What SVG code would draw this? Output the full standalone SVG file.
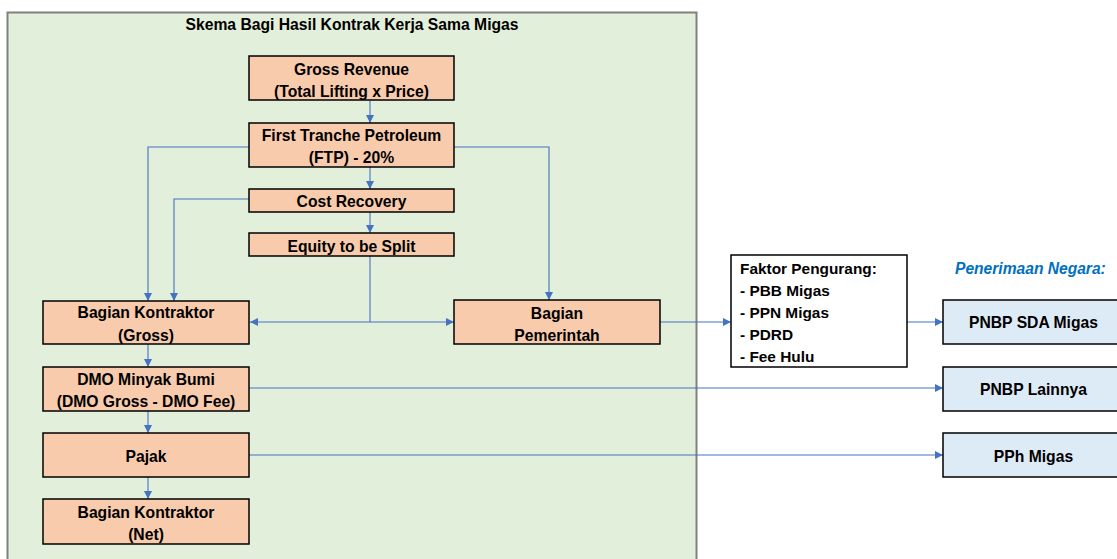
<svg xmlns="http://www.w3.org/2000/svg" width="1117" height="559" viewBox="0 0 1117 559">
<style>
text{font-family:"Liberation Sans",Arial,sans-serif;font-weight:bold;font-size:15.7px;fill:#000}
.c{text-anchor:middle}
.box{fill:#F8CBAD;stroke:#000;stroke-width:1.5}
.blue{fill:#DDEBF7;stroke:#000;stroke-width:1.5}
.wh{fill:#fff;stroke:#000;stroke-width:1.5}
.ln{fill:none;stroke:#4472C4;stroke-width:1.1}
.arr{marker-end:url(#ah)}
</style>
<defs>
<marker id="ah" viewBox="0 0 10 10" refX="10" refY="5" markerWidth="8" markerHeight="8" orient="auto" markerUnits="userSpaceOnUse">
<path d="M0,0 L10,5 L0,10 z" fill="#4472C4"/>
</marker>
</defs>
<rect width="1117" height="559" fill="#fff"/>
<g id="container">
<rect x="7.5" y="12.5" width="689" height="560" fill="#E2EFDA" stroke="#808080" stroke-width="2"/>
<text class="c" x="352" y="30">Skema Bagi Hasil Kontrak Kerja Sama Migas</text>
</g>
<g id="connectors">
<path class="ln arr" d="M370,100.5 V123"/>
<path class="ln arr" d="M370,167 V189"/>
<path class="ln arr" d="M370,212 V233"/>
<path class="ln arr" d="M249,147 H148 V301"/>
<path class="ln arr" d="M454,147 H549 V300"/>
<path class="ln arr" d="M249,199 H174 V301"/>
<path class="ln" d="M370,256 V322"/>
<path class="ln arr" d="M370,322 H250"/>
<path class="ln arr" d="M370,322 H454"/>
<path class="ln arr" d="M148,344 V367"/>
<path class="ln arr" d="M148,411 V433"/>
<path class="ln arr" d="M148,477 V499"/>
<path class="ln arr" d="M660,322 H731"/>
<path class="ln arr" d="M907,322 H943"/>
<path class="ln arr" d="M249,388 H943"/>
<path class="ln arr" d="M249,455 H943"/>
</g>
<g id="gross-revenue">
<rect class="box" x="249" y="56" width="205" height="44"/>
<text class="c" x="351.5" y="74.5">Gross Revenue</text>
<text class="c" x="351.5" y="96.5">(Total Lifting x Price)</text>
</g>
<g id="ftp">
<rect class="box" x="249" y="123" width="205" height="44"/>
<text class="c" x="351.5" y="141">First Tranche Petroleum</text>
<text class="c" x="351.5" y="163">(FTP) - 20%</text>
</g>
<g id="cost-recovery">
<rect class="box" x="249" y="189" width="205" height="23"/>
<text class="c" x="351.5" y="206.5">Cost Recovery</text>
</g>
<g id="equity">
<rect class="box" x="249" y="233" width="205" height="23"/>
<text class="c" x="351.5" y="251.5">Equity to be Split</text>
</g>
<g id="bk-gross">
<rect class="box" x="43" y="301" width="206" height="43"/>
<text class="c" x="146" y="318">Bagian Kontraktor</text>
<text class="c" x="146" y="340.5">(Gross)</text>
</g>
<g id="pemerintah">
<rect class="box" x="454" y="300" width="206" height="44"/>
<text class="c" x="557" y="319">Bagian</text>
<text class="c" x="557" y="340.5">Pemerintah</text>
</g>
<g id="dmo">
<rect class="box" x="43" y="367" width="206" height="44"/>
<text class="c" x="146" y="385">DMO Minyak Bumi</text>
<text class="c" x="146" y="406.5">(DMO Gross - DMO Fee)</text>
</g>
<g id="pajak">
<rect class="box" x="43" y="433" width="206" height="44"/>
<text class="c" x="146" y="461.5">Pajak</text>
</g>
<g id="bk-net">
<rect class="box" x="43" y="499" width="206" height="45"/>
<text class="c" x="146" y="517.5">Bagian Kontraktor</text>
<text class="c" x="146" y="540">(Net)</text>
</g>
<g id="faktor">
<rect class="wh" x="731" y="255" width="176" height="112"/>
<text x="740" y="274" style="font-size:15.4px">Faktor Pengurang:</text>
<text x="740" y="296" style="font-size:15.4px">- PBB Migas</text>
<text x="740" y="318" style="font-size:15.4px">- PPN Migas</text>
<text x="740" y="340" style="font-size:15.4px">- PDRD</text>
<text x="740" y="362" style="font-size:15.4px">- Fee Hulu</text>
</g>
<g id="penerimaan-label">
<text x="955" y="274" style="font-style:italic;font-size:15.6px;fill:#0070C0">Penerimaan Negara:</text>
</g>
<g id="pnbp-sda">
<rect class="blue" x="943" y="300" width="182" height="44"/>
<text class="c" x="1033.5" y="328">PNBP SDA Migas</text>
</g>
<g id="pnbp-lainnya">
<rect class="blue" x="943" y="367" width="182" height="44"/>
<text class="c" x="1033.5" y="395">PNBP Lainnya</text>
</g>
<g id="pph">
<rect class="blue" x="943" y="433" width="182" height="44"/>
<text class="c" x="1033.5" y="461.5">PPh Migas</text>
</g>
</svg>
